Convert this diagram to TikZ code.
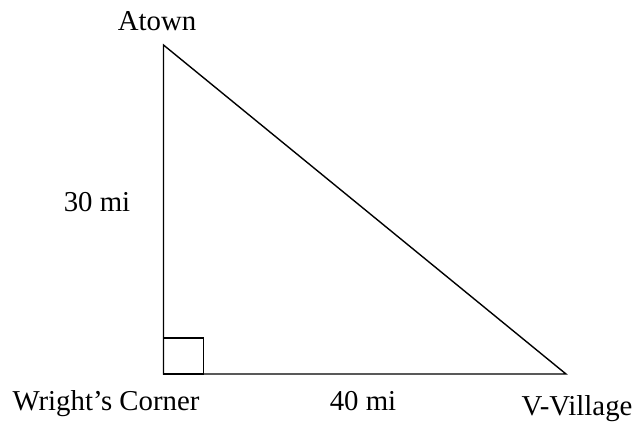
\documentclass[tikz,border=0pt]{standalone}
\usepackage{fontspec}
\setmainfont{Liberation Serif}
\begin{document}
\begin{tikzpicture}[x=0.5pt,y=-0.5pt,
  edge/.style={line width=0.7pt, line join=miter},
  lbl/.style={anchor=base, inner sep=0pt, font=\fontsize{14.4}{17}\selectfont}]
\useasboundingbox (0,0) rectangle (636,424);
\coordinate (A) at (163.5,45);
\coordinate (W) at (163.5,374);
\coordinate (V) at (566,374);
\coordinate (Sq) at (203.5,338);
\draw[edge] (A) -- (W) -- (V) -- cycle;
\draw[edge] (W) rectangle (Sq);
\node[lbl] (atown) at (157,30) {Atown};
\node[lbl] (thirty) at (97,211.5) {30 mi};
\node[lbl] (wright) at (106,410.5) {Wright’s Corner};
\node[lbl] (forty) at (363,410.5) {40 mi};
\node[lbl] (vvill) at (577,415) {V-Village};
\end{tikzpicture}
\end{document}
